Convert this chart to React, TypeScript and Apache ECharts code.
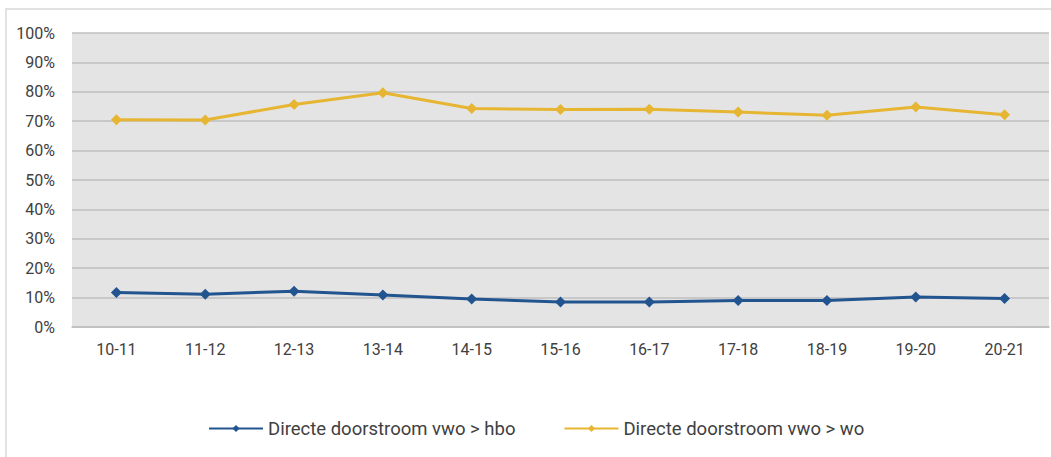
import React, { useEffect, useRef } from "react";
import * as echarts from "echarts";

const categories = ["10-11", "11-12", "12-13", "13-14", "14-15", "15-16", "16-17", "17-18", "18-19", "19-20", "20-21"];
const hboValues = [11.7, 11.1, 12.2, 10.9, 9.5, 8.5, 8.5, 9.0, 9.0, 10.2, 9.7];
const woValues = [70.5, 70.4, 75.7, 79.7, 74.3, 74.0, 74.1, 73.1, 72.0, 74.8, 72.2];
const seriesNames = ["Directe doorstroom vwo > hbo", "Directe doorstroom vwo > wo"];

const FONT = "Roboto, 'Noto Sans', sans-serif";

export default function App() {
  const ref = useRef<HTMLDivElement>(null);
  useEffect(() => {
    if (!ref.current) return;
    const chart = echarts.init(ref.current, null, { renderer: "svg" });
    chart.setOption({
      animation: false,
      backgroundColor: "#ffffff",
      graphic: [
        {
          type: "rect",
          shape: { x: 6, y: 9, width: 1060, height: 470 },
          style: { fill: "none", stroke: "#d9d9d9", lineWidth: 1.5 },
          silent: true,
        },
      ],
      grid: { left: 72, right: 2, top: 33, bottom: 130, show: true, backgroundColor: "#e4e4e4", borderWidth: 0 },
      legend: {
        top: 414,
        left: 203,
        itemGap: 48,
        itemWidth: 54,
        itemHeight: 9,
        textStyle: { fontFamily: FONT, fontSize: 18.5, color: "#404040" },
        data: seriesNames,
      },
      xAxis: {
        type: "category",
        data: categories,
        boundaryGap: true,
        axisLine: { show: true, lineStyle: { color: "#bfbfbf", width: 1.5 } },
        axisTick: { show: false },
        axisLabel: { fontFamily: FONT, fontSize: 16, color: "#404040", margin: 14 },
      },
      yAxis: {
        type: "value",
        min: 0,
        max: 100,
        interval: 10,
        axisLine: { show: false },
        axisTick: { show: false },
        splitLine: { show: true, lineStyle: { color: "#bfbfbf", width: 1.5 } },
        axisLabel: { fontFamily: FONT, fontSize: 16, color: "#404040", margin: 17, formatter: "{value}%" },
      },
      series: [
        {
          name: seriesNames[0],
          type: "line",
          data: hboValues,
          symbol: "diamond",
          symbolSize: 11,
          itemStyle: { color: "#22548f" },
          lineStyle: { color: "#22548f", width: 3 },
        },
        {
          name: seriesNames[1],
          type: "line",
          data: woValues,
          symbol: "diamond",
          symbolSize: 11,
          itemStyle: { color: "#e6b532" },
          lineStyle: { color: "#e6b532", width: 3 },
        },
      ],
    });
    return () => chart.dispose();
  }, []);
  return <div ref={ref} style={{ position: "fixed", left: 0, top: 0, width: 1051, height: 457 }} />;
}
